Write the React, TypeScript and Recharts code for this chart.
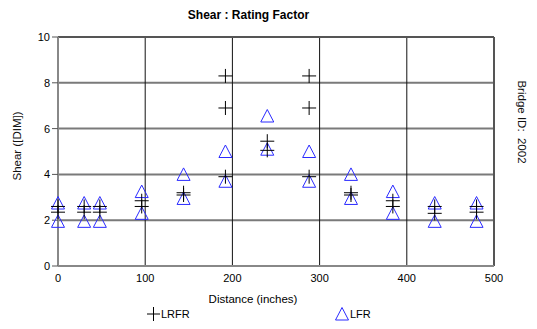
import React from "react";
import { ScatterChart, Scatter, XAxis, YAxis, ReferenceLine } from "recharts";

// distances along the bridge (inches)
const stations = [0, 30, 48, 96, 144, 192, 240, 288, 336, 384, 432, 480];
// LRFR rating factors, two values per station
const lrfrHigh = [2.6, 2.6, 2.6, 2.85, 3.2, 8.3, 5.45, 8.3, 3.2, 2.85, 2.6, 2.6];
const lrfrLow = [2.35, 2.35, 2.35, 2.6, 3.1, 6.9, 5.05, 6.9, 3.1, 2.6, 2.3, 2.35];
// extra LRFR points
const lrfrExtraX = [192, 288];
const lrfrExtraY = [3.9, 3.9];
// LFR rating factors
const lfrHigh = [2.75, 2.75, 2.75, 3.25, 4.0, 5.0, 6.55, 5.0, 4.0, 3.25, 2.75, 2.75];
const lfrLow = [1.95, 1.95, 1.95, 2.3, 2.95, 3.7, 5.1, 3.7, 2.95, 2.3, 1.95, 1.95];

const xTicks = [0, 100, 200, 300, 400, 500];
const yTicks = [0, 2, 4, 6, 8, 10];
const xGrid = [100, 200, 300, 400];
const yGrid = [2, 4, 6, 8];

const lrfrData = [
  ...stations.map((x, i) => ({ x, y: lrfrHigh[i] })),
  ...stations.map((x, i) => ({ x, y: lrfrLow[i] })),
  ...lrfrExtraX.map((x, i) => ({ x, y: lrfrExtraY[i] })),
];
const lfrData = [
  ...stations.map((x, i) => ({ x, y: lfrHigh[i] })),
  ...stations.map((x, i) => ({ x, y: lfrLow[i] })),
];

const FONT = "'Liberation Sans', Arial, sans-serif";

const Plus = (p: any) => {
  const { cx, cy } = p;
  return (
    <g>
      <line x1={cx - 7} y1={cy} x2={cx + 7} y2={cy} stroke="#000" strokeWidth={1} />
      <line x1={cx} y1={cy - 7} x2={cx} y2={cy + 7} stroke="#000" strokeWidth={1} />
    </g>
  );
};

const Tri = (p: any) => {
  const { cx, cy } = p;
  return (
    <polygon
      points={`${cx},${cy - 6.5} ${cx - 6.5},${cy + 6} ${cx + 6.5},${cy + 6}`}
      fill="none"
      stroke="#2a2aff"
      strokeWidth={1}
    />
  );
};

export default function App() {
  return (
    <div style={{ position: "absolute", left: 0, top: 0, width: 537, height: 329, background: "#fff", fontFamily: FONT }}>
      <ScatterChart width={537} height={329} margin={{ top: 37, right: 43, bottom: 43, left: 38 }}>
        <XAxis
          type="number"
          dataKey="x"
          domain={[0, 500]}
          ticks={xTicks}
          height={20}
          tickLine={false}
          tickSize={6}
          axisLine={{ stroke: "#888", strokeWidth: 2 }}
          tick={{ fill: "#000", fontSize: 11, fontFamily: FONT }}
        />
        <YAxis
          type="number"
          dataKey="y"
          domain={[0, 10]}
          ticks={yTicks}
          width={20}
          tickSize={6}
          tickLine={{ stroke: "#555" }}
          axisLine={{ stroke: "#888", strokeWidth: 2 }}
          tick={{ fill: "#000", fontSize: 11, fontFamily: FONT }}
        />
        {yGrid.map((v) => (
          <ReferenceLine key={"h" + v} y={v} stroke="#7a7a7a" strokeWidth={2} />
        ))}
        {xGrid.map((v) => (
          <ReferenceLine key={"v" + v} x={v} stroke="#111" strokeWidth={1} />
        ))}
        <ReferenceLine y={10} stroke="#555" strokeWidth={2} />
        <ReferenceLine x={500} stroke="#555" strokeWidth={2} />
        <Scatter data={lfrData} shape={Tri} isAnimationActive={false} />
        <Scatter data={lrfrData} shape={Plus} isAnimationActive={false} />
      </ScatterChart>

      <div style={{ position: "absolute", left: 0, width: 497, top: 8, textAlign: "center", fontSize: 12, fontWeight: "bold", color: "#000" }}>
        Shear : Rating Factor
      </div>
      <div style={{ position: "absolute", left: 0, width: 506, top: 293, textAlign: "center", fontSize: 11.5, color: "#000" }}>
        Distance (inches)
      </div>
      <div
        style={{
          position: "absolute", left: 17, top: 146, fontSize: 11.5, color: "#111", whiteSpace: "nowrap",
          transform: "translate(-50%, -50%) rotate(-90deg)",
        }}
      >
        Shear ([DIM])
      </div>
      <div
        style={{
          position: "absolute", left: 522, top: 122, fontSize: 11.5, color: "#111", whiteSpace: "nowrap",
          transform: "translate(-50%, -50%) rotate(90deg)",
        }}
      >
        Bridge ID:&nbsp; 2002
      </div>
      <div style={{ position: "absolute", left: 147, top: 307, fontSize: 11, display: "flex", alignItems: "center" }}>
        <svg width={14} height={14}>
          <line x1={0} y1={7} x2={13} y2={7} stroke="#000" />
          <line x1={6.5} y1={0} x2={6.5} y2={14} stroke="#000" />
        </svg>
        <span>LRFR</span>
      </div>
      <div style={{ position: "absolute", left: 335, top: 307, fontSize: 11, display: "flex", alignItems: "center" }}>
        <svg width={15} height={14}>
          <polygon points="7,0.5 0.5,13 13.5,13" fill="none" stroke="#2a2aff" />
        </svg>
        <span>LFR</span>
      </div>
    </div>
  );
}
